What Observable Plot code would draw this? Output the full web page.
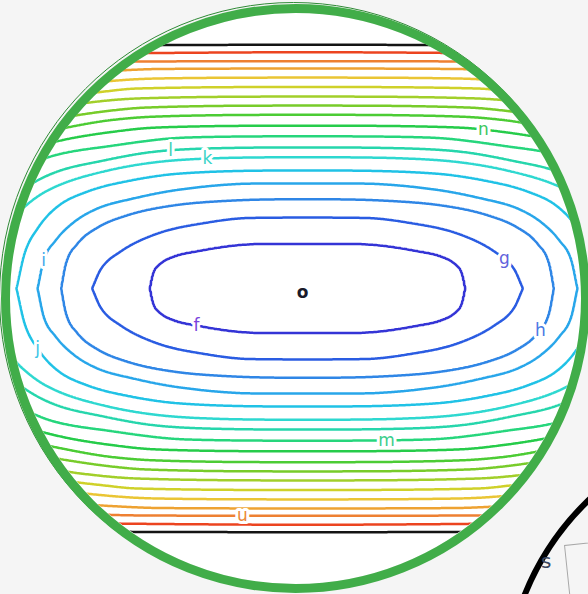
<!DOCTYPE html>
<html>
<head>
<meta charset="utf-8">
<script src="https://cdn.jsdelivr.net/npm/d3@7"></script>
<script src="https://cdn.jsdelivr.net/npm/@observablehq/plot@0.6"></script>
<style>
  html, body { margin: 0; padding: 0; }
  body { width: 588px; height: 594px; overflow: hidden; position: relative; background: #f5f5f5; font-family: "DejaVu Sans", sans-serif; }
  #disc { position: absolute; left: 10px; top: 12.5px; width: 571px; height: 571px; border-radius: 50%; background: #fff; }
  #plot { position: absolute; left: 0; top: 0; clip-path: circle(285.5px at 295.5px 298px); }
  #shadowRing { position: absolute; left: -1.5px; top: 1.5px; width: 589px; height: 589px; box-sizing: border-box; border: 1.5px solid #2f8a36; border-radius: 50%; }
  #ring { position: absolute; left: 1px; top: 3.5px; width: 589px; height: 589px; box-sizing: border-box; border: 9px solid #41ad49; border-radius: 50%; }
  #other { position: absolute; left: 502px; top: 421px; width: 551px; height: 551px; box-sizing: border-box; border: 6px solid #000; border-radius: 50%; }
  #otherBox { position: absolute; left: 564px; top: 545px; width: 60px; height: 70px; box-sizing: border-box; border: 1.5px solid #a8a8a8; transform: rotate(-6deg); transform-origin: 0 0; }
  #otherText { position: absolute; left: 541px; top: 549px; font-size: 20px; color: #3a4660; font-family: "DejaVu Sans", sans-serif; }
</style>
</head>
<body>
<div id="disc"></div>
<div id="plot"></div>
<div id="shadowRing"></div>
<div id="ring"></div>
<div id="other"></div>
<div id="otherBox"></div>
<div id="otherText">s</div>
<script>
// Contour levels (inner → outer) and their colours
const levels = [1, 2, 3, 4, 5, 6, 7, 8, 9, 10, 11, 12, 13, 14, 15, 16, 17, 18];
const levelColors = ["#3434d6", "#2a5ce2", "#2f86e6", "#28a6ea", "#20c2e6", "#2ed8d0", "#26d6ac", "#26d67c",
  "#26cc4a", "#4ccc34", "#78cc2a", "#a2cf2a", "#cfd12a", "#eac534", "#eea232", "#ee8032", "#ec4420", "#141414"];

// Half-height of each contour at horizontal offsets from the minimum:
// [offset, half-height]; a final half-height of 0 marks a closed contour.
const level1 = [[0, 44.5], [50, 44.5], [74, 43], [107, 38], [134, 32], [147, 25], [155, 14], [158, 0]];
const level2 = [[0, 71], [60, 70.5], [100, 66], [150, 55], [187, 37], [207, 19], [215.5, 0]];
const level3 = [[0, 89.3], [74, 88], [135, 83], [178, 74], [210, 61], [230, 45], [242, 24], [246.5, 0]];
const level4 = [[0, 105], [50, 105], [127, 99], [174, 90], [210, 80], [234, 66], [252, 48], [264, 28], [270, 0]];
const level5 = [[0, 118], [127, 115], [177, 108], [220, 97], [250, 82], [270, 60], [283, 35], [291, 0]];
const level6 = [[0, 131.3], [100, 130], [157, 125.7], [207, 116.3], [247, 104], [270, 92], [290, 75], [310, 50]];
const level7 = [[0, 141], [100, 140], [157, 136.3], [207, 127.3], [247, 118], [270, 108], [290, 95], [310, 78]];
const level8 = [[0, 152.2], [120, 151], [197, 142.5], [257, 132], [290, 118], [310, 108]];
const level9 = [[0, 162.8], [150, 161], [200, 156], [247, 148], [290, 136], [310, 128]];
const level10 = [[0, 173.7], [150, 172], [200, 168], [242, 160.7], [290, 150], [310, 143]];
const level11 = [[0, 182.9], [160, 181], [200, 177.5], [232, 173], [310, 160]];
const level12 = [[0, 191.9], [170, 190], [227, 185], [310, 172]];
const level13 = [[0, 201.5], [170, 200], [207, 196.5], [260, 190], [310, 182]];
const level14 = [[0, 210.9], [150, 210], [190, 208], [310, 195]];
const level15 = [[0, 220], [150, 219.5], [179, 218.5], [310, 210]];
const level16 = [[0, 227.2], [160, 227], [310, 222]];
const level17 = [[0, 236.3], [310, 234]];
const level18 = [[0, 243.7], [310, 243]];
const levelProfiles = [level1, level2, level3, level4, level5, level6, level7, level8, level9,
  level10, level11, level12, level13, level14, level15, level16, level17, level18];

// Contour labels
const labelText = ["f", "g", "h", "i", "j", "k", "l", "m", "n", "u"];
const labelLevel = [1, 2, 3, 4, 5, 6, 7, 8, 9, 16];
const labelOffset = [-111, 197, 233, -264, -270, -100, -137, 79, 176, -65];
const labelSide = [-1, 1, -1, 1, -1, 1, 1, -1, 1, -1];
const labelColors = ["#7a44dc", "#6262dc", "#4a7ae4", "#44a8ea", "#3cc4e6", "#38d4c8", "#3ccfb4", "#3cce8c", "#3cc860", "#eb8a3a"];

// Minimum marker
const minimum = [{x: -5, y: -4, text: "o"}];

// monotone cubic (Fritsch–Carlson) lookup through a measured profile
function makeLookup(p) {
  const n = p.length, xs = p.map(d => d[0]), ys = p.map(d => d[1]);
  const dk = [], m = new Array(n);
  for (let i = 0; i < n - 1; i++) dk.push((ys[i + 1] - ys[i]) / (xs[i + 1] - xs[i]));
  m[0] = 0;
  m[n - 1] = dk[n - 2];
  for (let i = 1; i < n - 1; i++) m[i] = dk[i - 1] * dk[i] <= 0 ? 0 : (dk[i - 1] + dk[i]) / 2;
  for (let i = 0; i < n - 1; i++) {
    if (dk[i] === 0) { m[i] = 0; m[i + 1] = 0; continue; }
    const a = m[i] / dk[i], b = m[i + 1] / dk[i], s = a * a + b * b;
    if (s > 9) { const t = 3 / Math.sqrt(s); m[i] = t * a * dk[i]; m[i + 1] = t * b * dk[i]; }
  }
  return u => {
    if (u <= xs[0]) return ys[0];
    if (u >= xs[n - 1]) return ys[n - 1];
    let i = 0;
    while (u > xs[i + 1]) i++;
    const h = xs[i + 1] - xs[i], t = (u - xs[i]) / h, t2 = t * t, t3 = t2 * t;
    return (2 * t3 - 3 * t2 + 1) * ys[i] + (t3 - 2 * t2 + t) * h * m[i]
      + (-2 * t3 + 3 * t2) * ys[i + 1] + (t3 - t2) * h * m[i + 1];
  };
}
const lookups = levelProfiles.map(makeLookup);
const closedAt = levelProfiles.map(p => p[p.length - 1][1] === 0 ? p[p.length - 1][0] : Infinity);

// value on the centre line, from where the closed contours cross it
const crossings = [[0, 0]];
levelProfiles.forEach((p, i) => { if (closedAt[i] < Infinity) crossings.push([closedAt[i], levels[i]]); });
crossings.push([crossings[crossings.length - 1][0] + 40, crossings[crossings.length - 1][1] + 1]);
function centreValue(u) {
  for (let i = 1; i < crossings.length; i++) {
    if (u <= crossings[i][0]) {
      const [u0, l0] = crossings[i - 1], [u1, l1] = crossings[i];
      return l0 + (l1 - l0) * (u - u0) / (u1 - u0);
    }
  }
  return crossings[crossings.length - 1][1];
}
function field(x, y) {
  const u = Math.abs(x), v = Math.abs(y);
  const X = centreValue(u);
  let prevD = 0, prevVal = X;
  for (let k = 0; k < levels.length; k++) {
    if (u >= closedAt[k]) continue;
    const D = lookups[k](u);
    if (D <= 0 || levels[k] <= X || D <= prevD) continue;
    if (v <= D) return prevVal + (levels[k] - prevVal) * (v - prevD) / (D - prevD);
    prevD = D; prevVal = levels[k];
  }
  return prevVal + (v - prevD) / 8;
}

const labels = labelText.map((t, i) => ({
  text: t,
  color: labelColors[i],
  x: labelOffset[i],
  y: labelSide[i] * lookups[labelLevel[i] - 1](Math.abs(labelOffset[i]))
}));

const chart = Plot.plot({
  width: 588,
  height: 594,
  margin: 0,
  x: {domain: [-307, 281], axis: null},
  y: {domain: [-306, 288], axis: null},
  color: {type: "ordinal", domain: levels, range: levelColors},
  style: {background: "transparent"},
  marks: [
    Plot.contour({
      x1: -307, x2: 281, y1: -306, y2: 288,
      pixelSize: 1,
      value: field,
      thresholds: levels,
      stroke: "value",
      fill: "none",
      strokeWidth: 2.5
    }),
    Plot.text(labels, {
      x: "x", y: "y", text: "text",
      fill: d => d.color,
      stroke: "white", strokeWidth: 6,
      fontSize: 17, fontFamily: "DejaVu Sans",
      textAnchor: "middle", lineAnchor: "middle"
    }),
    Plot.text(minimum, {
      x: "x", y: "y", text: "text",
      fill: "#1a1a2a", fontSize: 17, fontWeight: "bold", fontFamily: "DejaVu Sans",
      textAnchor: "middle", lineAnchor: "middle"
    })
  ]
});
document.getElementById("plot").appendChild(chart);
</script>
</body>
</html>
